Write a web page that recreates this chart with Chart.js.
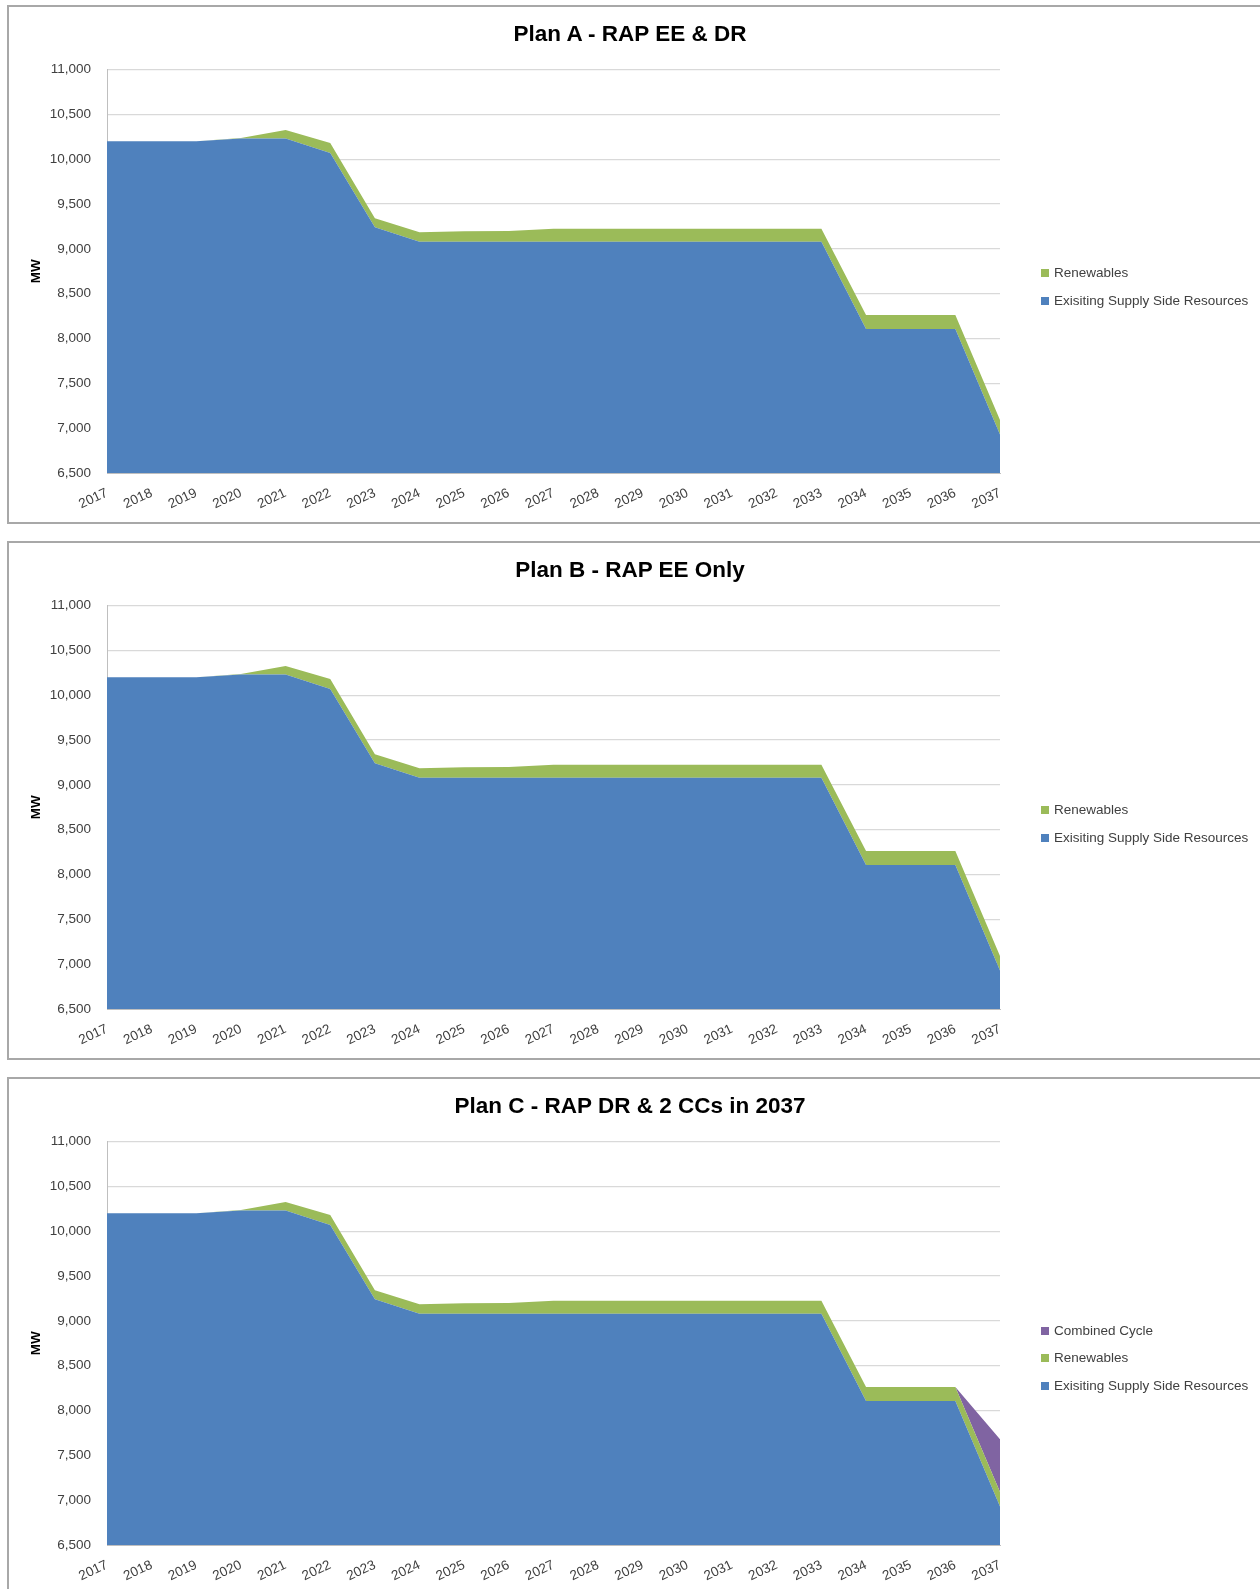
<!DOCTYPE html>
<html>
<head>
<meta charset="utf-8">
<title>Resource plans</title>
<script src="https://cdn.jsdelivr.net/npm/chart.js@4.4.1/dist/chart.umd.min.js"></script>
<style>
	html, body { margin: 0; padding: 0; background: #fff; overflow: hidden; }
	body { width: 1260px; height: 1589px; position: relative; font-family: "Liberation Sans", Arial, sans-serif; }
	.panel { position: absolute; left: 0; width: 1260px; height: 519px; }
	.frame { position: absolute; left: 7px; top: 0; width: 1270px; height: 519px; box-sizing: border-box; border: 2px solid #a8a8a8; }
	.panel canvas { position: absolute; left: 0; top: 0; }
	.plan-title { position: absolute; left: 0; top: 16px; width: 1260px; height: 26px; line-height: 26px; text-align: center; font-size: 22.5px; font-weight: bold; color: #000; white-space: nowrap; }
	.legend-item { position: absolute; left: 1041px; height: 16px; line-height: 16px; font-size: 13.5px; color: #404040; white-space: nowrap; }
	.legend-item i { position: absolute; left: 0; top: 4px; width: 8px; height: 8px; }
	.legend-item span { position: absolute; left: 13px; top: 0; }
</style>
</head>
<body>

<script>
// years on the category axis
var years = ['2017', '2018', '2019', '2020', '2021', '2022', '2023', '2024', '2025', '2026', '2027',
	'2028', '2029', '2030', '2031', '2032', '2033', '2034', '2035', '2036', '2037'];

// MW per year, stacked bottom to top
var existingSupply = [10200, 10200, 10200, 10230, 10230, 10070, 9240, 9080, 9080, 9080, 9080,
	9080, 9080, 9080, 9080, 9080, 9080, 8105, 8105, 8105, 6930];
var renewables = [0, 0, 0, 5, 95, 110, 100, 105, 115, 120, 145,
	145, 145, 145, 145, 145, 145, 158, 158, 158, 160];
var combinedCycle = [0, 0, 0, 0, 0, 0, 0, 0, 0, 0, 0,
	0, 0, 0, 0, 0, 0, 0, 0, 0, 590];

// y axis range
var yMin = 6500;
var yMax = 11000;
var yStep = 500;

var series = {
	existing: { label: 'Exisiting Supply Side Resources', data: existingSupply, color: '#4f81bd' },
	renew: { label: 'Renewables', data: renewables, color: '#9bbb59' },
	cc: { label: 'Combined Cycle', data: combinedCycle, color: '#8064a2' }
};

var plans = [
	{ id: 'planA', top: 5, title: 'Plan A - RAP EE & DR', keys: ['existing', 'renew'], legendY: [268, 296] },
	{ id: 'planB', top: 541, title: 'Plan B - RAP EE Only', keys: ['existing', 'renew'], legendY: [269, 297] },
	{ id: 'planC', top: 1077, title: 'Plan C - RAP DR & 2 CCs in 2037', keys: ['existing', 'renew', 'cc'], legendY: [254, 280.5, 308.5] }
];

Chart.defaults.font.family = '"Liberation Sans", Arial, sans-serif';

plans.forEach(function(plan)
{
	var panel = document.createElement('div');
	panel.className = 'panel';
	panel.style.top = plan.top + 'px';

	var frame = document.createElement('div');
	frame.className = 'frame';
	panel.appendChild(frame);

	var canvas = document.createElement('canvas');
	canvas.id = plan.id;
	canvas.width = 1260;
	canvas.height = 519;
	canvas.style.width = '1260px';
	canvas.style.height = '519px';
	panel.appendChild(canvas);

	// title is centred on the whole panel, not on the plot area
	var title = document.createElement('div');
	title.className = 'plan-title';
	title.textContent = plan.title;
	panel.appendChild(title);

	// legend lists the top of the stack first
	var legendKeys = plan.keys.slice().reverse();
	legendKeys.forEach(function(key, i)
	{
		var item = document.createElement('div');
		item.className = 'legend-item';
		item.style.top = (plan.legendY[i] - 8) + 'px';
		var swatch = document.createElement('i');
		swatch.style.background = series[key].color;
		var text = document.createElement('span');
		text.textContent = series[key].label;
		item.appendChild(swatch);
		item.appendChild(text);
		panel.appendChild(item);
	});

	document.body.appendChild(panel);

	var datasets = plan.keys.map(function(key, i)
	{
		var s = series[key];
		return {
			label: s.label,
			data: s.data,
			backgroundColor: s.color,
			borderColor: s.color,
			borderWidth: 0,
			pointRadius: 0,
			tension: 0,
			fill: i === 0 ? 'start' : '-1'
		};
	});

	new Chart(canvas, {
		type: 'line',
		data: { labels: years, datasets: datasets },
		options: {
			responsive: false,
			animation: false,
			devicePixelRatio: 1,
			layout: { padding: { left: 28, right: 260, top: 64.5, bottom: 11 } },
			plugins: {
				legend: { display: false },
				tooltip: { enabled: false },
				title: { display: false }
			},
			scales: {
				x: {
					offset: false,
					grid: { display: false, drawTicks: false },
					border: { display: true, color: '#bfbfbf' },
					ticks: {
						autoSkip: false,
						minRotation: 25,
						maxRotation: 25,
						padding: 12,
						color: '#404040',
						font: { size: 13.5 }
					},
					afterFit: function(scale) { scale.height = 40; }
				},
				y: {
					stacked: true,
					min: yMin,
					max: yMax,
					grid: { color: '#d9d9d9', lineWidth: 1.2, drawTicks: false },
					border: { display: true, color: '#bfbfbf' },
					ticks: {
						stepSize: yStep,
						padding: 16,
						color: '#404040',
						font: { size: 13.5 },
						callback: function(v) { return Number(v).toLocaleString('en-US'); }
					},
					title: {
						display: true,
						text: 'MW',
						color: '#000',
						font: { size: 13.5, weight: 'bold' },
						padding: 0
					},
					afterFit: function(scale) { scale.width = 79; }
				}
			}
		}
	});
});
</script>
</body>
</html>
